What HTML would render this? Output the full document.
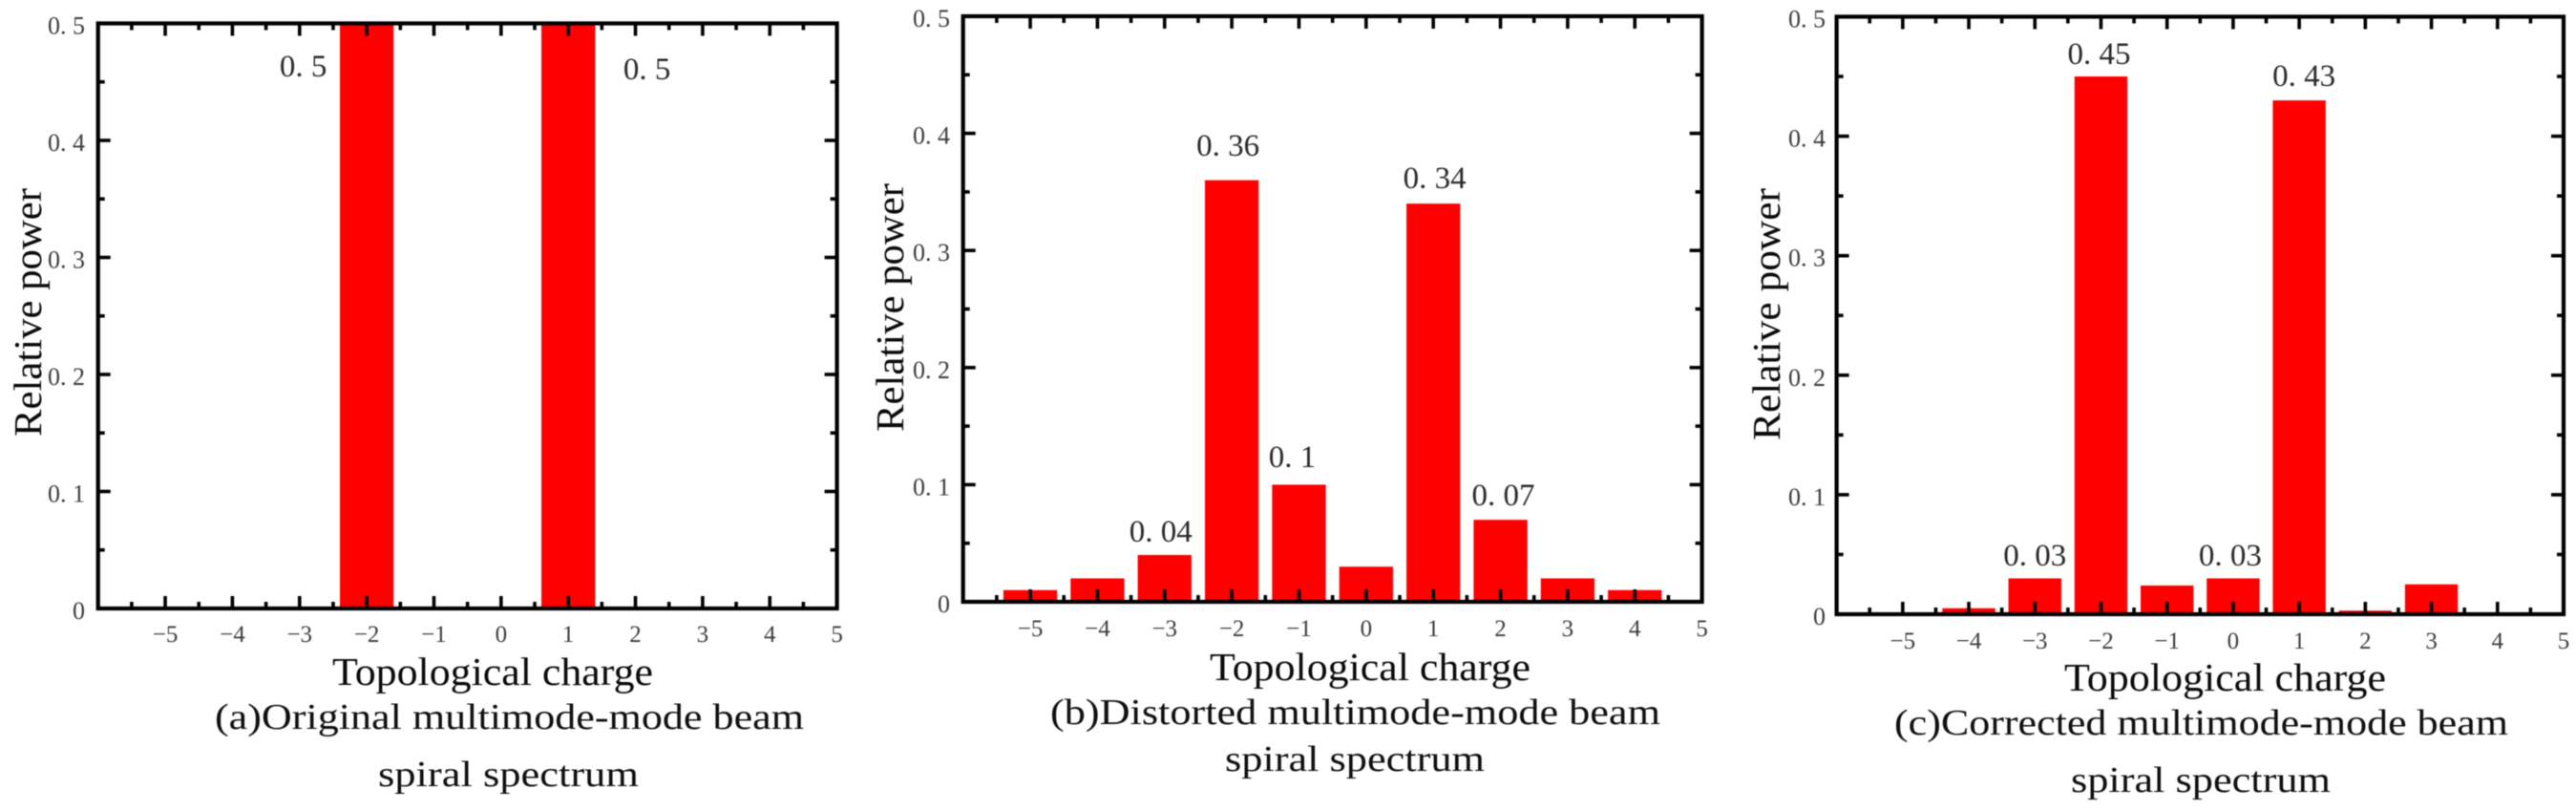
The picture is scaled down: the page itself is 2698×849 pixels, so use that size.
<!DOCTYPE html>
<html lang="en">
<head>
<meta charset="utf-8">
<title>Multimode beam spiral spectra</title>
<style>
  html, body { margin: 0; padding: 0; background: #fff; }
  body { width: 2698px; height: 849px; overflow: hidden; }
  svg { display: block; filter: blur(0.5px); }
  text { font-family: "Liberation Serif", "Noto Serif CJK SC", serif; }
  .title { font-size: 41px; fill: #0a0a0a; }
  .caption { font-size: 38px; fill: #0f0f0f; }
  .tick { font-size: 26px; fill: #3c3c3c; }
  .xtick { font-size: 25px; fill: #3c3c3c; text-anchor: middle; }
  .value { font-size: 33px; fill: #2a2a2a; text-anchor: middle; }
</style>
</head>
<body>
<svg id="figure" xmlns="http://www.w3.org/2000/svg" width="2698" height="849" viewBox="0 0 2698 849">
  <rect x="0" y="0" width="2698" height="849" fill="#fff"/>

  <g id="panel-a"></g>
  <g id="panel-b"></g>
  <g id="panel-c"></g>

  <text class="title" transform="translate(43,457) rotate(-90)" textLength="260" lengthAdjust="spacingAndGlyphs">Relative power</text>
  <text class="title" x="348" y="717" textLength="336" lengthAdjust="spacingAndGlyphs">Topological charge</text>
  <text class="caption" x="225" y="763" textLength="617" lengthAdjust="spacingAndGlyphs">(a)Original multimode-mode beam</text>
  <text class="caption" x="396" y="823" textLength="273" lengthAdjust="spacingAndGlyphs">spiral spectrum</text>

  <text class="title" transform="translate(946,452) rotate(-90)" textLength="260" lengthAdjust="spacingAndGlyphs">Relative power</text>
  <text class="title" x="1267" y="712" textLength="336" lengthAdjust="spacingAndGlyphs">Topological charge</text>
  <text class="caption" x="1100" y="758" textLength="639" lengthAdjust="spacingAndGlyphs">(b)Distorted multimode-mode beam</text>
  <text class="caption" x="1283" y="807" textLength="272" lengthAdjust="spacingAndGlyphs">spiral spectrum</text>

  <text class="title" transform="translate(1864,461) rotate(-90)" textLength="264" lengthAdjust="spacingAndGlyphs">Relative power</text>
  <text class="title" x="2162" y="723" textLength="337" lengthAdjust="spacingAndGlyphs">Topological charge</text>
  <text class="caption" x="1984" y="769" textLength="643" lengthAdjust="spacingAndGlyphs">(c)Corrected multimode-mode beam</text>
  <text class="caption" x="2169" y="829" textLength="272" lengthAdjust="spacingAndGlyphs">spiral spectrum</text>
</svg>

<script>
const categories = [-5, -4, -3, -2, -1, 0, 1, 2, 3, 4];
const valuesOriginal = [0, 0, 0, 0.5, 0, 0, 0.5, 0, 0, 0];
const valuesDistorted = [0.01, 0.02, 0.04, 0.36, 0.1, 0.03, 0.34, 0.07, 0.02, 0.01];
const valuesCorrected = [0.001, 0.005, 0.03, 0.45, 0.024, 0.03, 0.43, 0.003, 0.025, 0];
const xTickValues = [-5, -4, -3, -2, -1, 0, 1, 2, 3, 4, 5];
const xTickLabels = ['\u22125', '\u22124', '\u22123', '\u22122', '\u22121', '0', '1', '2', '3', '4', '5'];
const yTickValues = [0, 0.1, 0.2, 0.3, 0.4, 0.5];
const yTickLabels = ['0', '0. 1', '0. 2', '0. 3', '0. 4', '0. 5'];
const printedCategoriesOriginal = [-2, 1];
const printedLabelsOriginal = ['0. 5', '0. 5'];
const printedCategoriesDistorted = [-3, -2, -1, 1, 2];
const printedLabelsDistorted = ['0. 04', '0. 36', '0. 1', '0. 34', '0. 07'];
const printedCategoriesCorrected = [-3, -2, 0, 1];
const printedLabelsCorrected = ['0. 03', '0. 45', '0. 03', '0. 43'];

const X_MIN = -6;
const X_MAX = 5;
const Y_MAX = 0.5;
const SVG_NS = 'http://www.w3.org/2000/svg';

function makeLine(parent, x1, y1, x2, y2, width) {
  const el = document.createElementNS(SVG_NS, 'line');
  el.setAttribute('x1', x1);
  el.setAttribute('y1', y1);
  el.setAttribute('x2', x2);
  el.setAttribute('y2', y2);
  el.setAttribute('stroke', '#000');
  el.setAttribute('stroke-width', width);
  parent.appendChild(el);
  return el;
}

function makeText(parent, cls, x, y, content) {
  const el = document.createElementNS(SVG_NS, 'text');
  el.setAttribute('class', cls);
  el.setAttribute('x', x);
  el.setAttribute('y', y);
  el.textContent = content;
  parent.appendChild(el);
  return el;
}

function drawPanel(id, frame, values, printedCats, printedLabels) {
  const g = document.getElementById(id);
  const xScale = v => frame.left + (v - X_MIN) / (X_MAX - X_MIN) * (frame.right - frame.left);
  const yScale = v => frame.bottom - v / Y_MAX * (frame.bottom - frame.top);
  const unit = xScale(1) - xScale(0);
  const barWidth = unit * 0.8;

  categories.forEach((c, i) => {
    const bar = document.createElementNS(SVG_NS, 'rect');
    bar.setAttribute('x', xScale(c) - barWidth / 2);
    bar.setAttribute('y', yScale(values[i]));
    bar.setAttribute('width', barWidth);
    bar.setAttribute('height', frame.bottom - yScale(values[i]));
    bar.setAttribute('fill', '#ff0000');
    
    
    g.appendChild(bar);
  });

  // x ticks: inward on the bottom and top axes, major on integers and minor on halves
  xTickValues.forEach((t, i) => {
    if (t < X_MAX) {
      const major = makeLine(g, xScale(t), frame.bottom, xScale(t), frame.bottom - 13, 3.6);
      
      
      const majorTop = makeLine(g, xScale(t), frame.top, xScale(t), frame.top + 13, 3.6);
      
      
    }
    const minorAt = t - 0.5;
    const minor = makeLine(g, xScale(minorAt), frame.bottom, xScale(minorAt), frame.bottom - 7, 3.6);
    
    
    const minorTop = makeLine(g, xScale(minorAt), frame.top, xScale(minorAt), frame.top + 7, 3.6);
    
    
    const label = makeText(g, 'xtick', xScale(t), frame.xLabelBaseline, xTickLabels[i]);
    
    
  });

  // y ticks: inward on the left and right axes, major on tenths and minor between them
  yTickValues.forEach((t, i) => {
    if (t > 0 && t < Y_MAX) {
      const major = makeLine(g, frame.left, yScale(t), frame.left + 13, yScale(t), 3.6);
      
      
      const majorRight = makeLine(g, frame.right, yScale(t), frame.right - 13, yScale(t), 3.6);
      
      
    }
    if (t > 0) {
      const mid = t - 0.05;
      const minor = makeLine(g, frame.left, yScale(mid), frame.left + 7, yScale(mid), 3.6);
      
      
      const minorRight = makeLine(g, frame.right, yScale(mid), frame.right - 7, yScale(mid), 3.6);
      
      
    }
    const label = makeText(g, 'tick', frame.yLabelRight, yScale(t) + 11, yTickLabels[i]);
    label.setAttribute('text-anchor', 'end');
    
    
  });

  const box = document.createElementNS(SVG_NS, 'rect');
  box.setAttribute('x', frame.left);
  box.setAttribute('y', frame.top);
  box.setAttribute('width', frame.right - frame.left);
  box.setAttribute('height', frame.bottom - frame.top);
  box.setAttribute('fill', 'none');
  box.setAttribute('stroke', '#000');
  box.setAttribute('stroke-width', 4.2);
  
  
  g.appendChild(box);

  printedCats.forEach((c, i) => {
    const value = values[categories.indexOf(c)];
    const nudge = frame.labelNudges[i];
    const label = makeText(g, 'value', xScale(c) + nudge[0], yScale(value) + nudge[1], printedLabels[i]);
    
    
  });
}

drawPanel('panel-a', {
  left: 102.7, right: 876.6, top: 24.5, bottom: 637,
  xLabelBaseline: 672, yLabelRight: 89,
  labelNudges: [[-66.5, 55.5], [82.5, 58.5]]
}, valuesOriginal, printedCategoriesOriginal, printedLabelsOriginal);

drawPanel('panel-b', {
  left: 1008.7, right: 1782.6, top: 17, bottom: 630,
  xLabelBaseline: 666, yLabelRight: 995,
  labelNudges: [[-4, -14], [-4, -25.6], [-7, -18.4], [1.5, -16], [3, -15]]
}, valuesDistorted, printedCategoriesDistorted, printedLabelsDistorted);

drawPanel('panel-c', {
  left: 1923.6, right: 2685, top: 17.5, bottom: 643,
  xLabelBaseline: 679, yLabelRight: 1912,
  labelNudges: [[0, -13.5], [-2, -13], [-3, -13.5], [5, -15]]
}, valuesCorrected, printedCategoriesCorrected, printedLabelsCorrected);
</script>
</body>
</html>
